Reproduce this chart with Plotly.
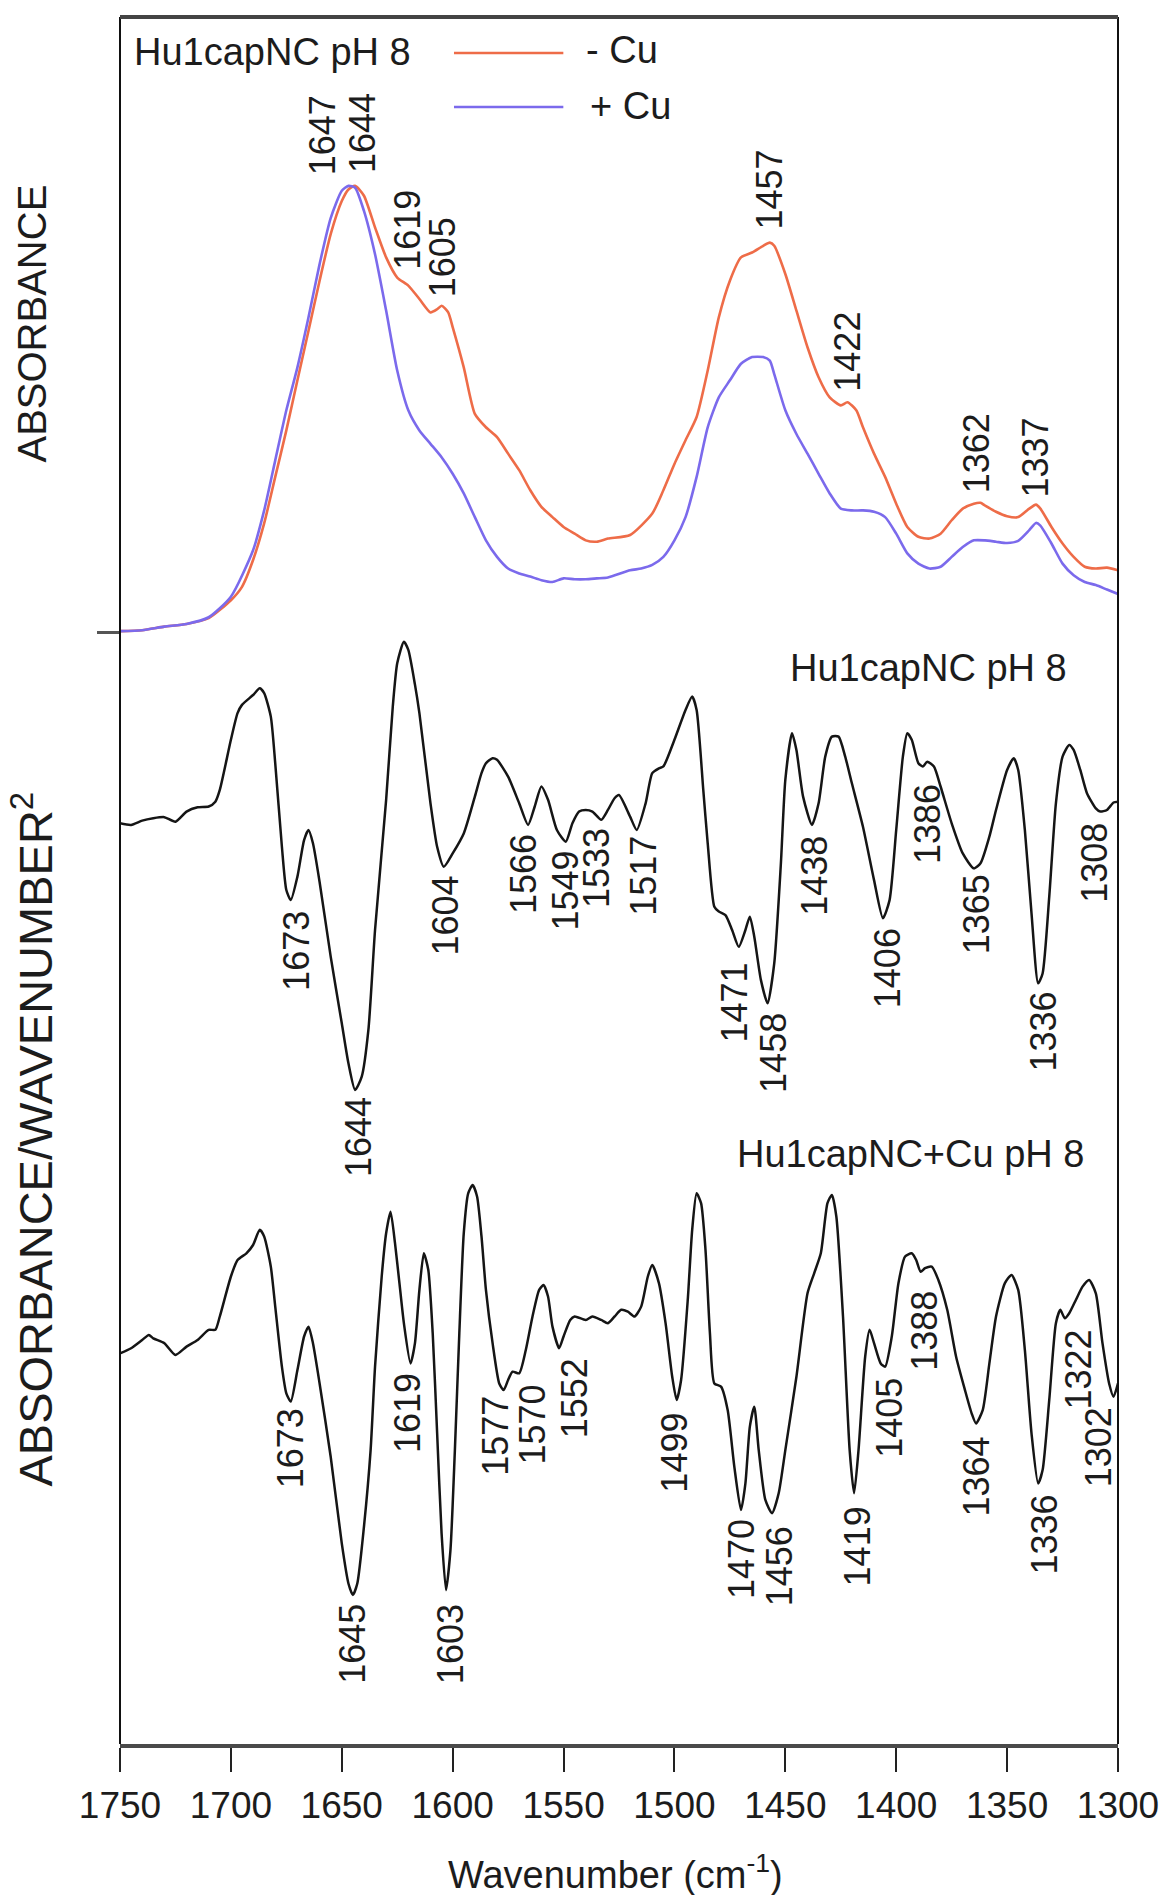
import numpy as np
import plotly.graph_objects as go

# ---------------- data ----------------
# Absorbance spectra (normalised), wavenumber in cm-1
ABS_NO_CU_WN = [1750, 1740, 1730, 1720, 1710, 1700, 1695, 1690, 1685, 1680, 1675, 1670, 1665, 1660,
                1655, 1650, 1647, 1644, 1640, 1635, 1630, 1625, 1620, 1615, 1610, 1607, 1605, 1602,
                1600, 1595, 1590, 1585, 1580, 1575, 1570, 1565, 1560, 1555, 1550, 1545, 1540, 1535,
                1530, 1520, 1510, 1505, 1500, 1495, 1490, 1485, 1480, 1475, 1470, 1465, 1460, 1457,
                1455, 1450, 1445, 1440, 1435, 1430, 1425, 1422, 1418, 1415, 1410, 1405, 1400, 1395,
                1390, 1385, 1380, 1375, 1370, 1365, 1362, 1360, 1355, 1350, 1345, 1340, 1337, 1335,
                1330, 1325, 1320, 1315, 1310, 1305, 1300]
ABS_NO_CU = [0.002, 0.004, 0.012, 0.018, 0.031, 0.071, 0.101, 0.161, 0.243, 0.347, 0.451, 0.563, 0.674, 0.786,
             0.890, 0.964, 0.990, 0.998, 0.976, 0.905, 0.838, 0.793, 0.775, 0.745, 0.715, 0.722, 0.730, 0.715,
             0.682, 0.592, 0.488, 0.458, 0.436, 0.399, 0.362, 0.317, 0.280, 0.257, 0.235, 0.220, 0.205, 0.202,
             0.209, 0.217, 0.265, 0.317, 0.376, 0.429, 0.481, 0.585, 0.704, 0.786, 0.838, 0.849, 0.864, 0.871,
             0.864, 0.801, 0.719, 0.637, 0.570, 0.525, 0.507, 0.514, 0.496, 0.458, 0.399, 0.347, 0.287, 0.235,
             0.213, 0.209, 0.220, 0.250, 0.276, 0.287, 0.289, 0.283, 0.269, 0.259, 0.257, 0.276, 0.285, 0.276,
             0.235, 0.198, 0.168, 0.146, 0.142, 0.144, 0.138]

ABS_CU_WN = [1750, 1740, 1730, 1720, 1710, 1700, 1690, 1685, 1680, 1675, 1670, 1665, 1660, 1655,
             1650, 1647, 1644, 1640, 1635, 1630, 1625, 1620, 1615, 1610, 1605, 1600, 1595, 1590,
             1585, 1580, 1575, 1570, 1565, 1560, 1555, 1550, 1545, 1540, 1535, 1530, 1520, 1515,
             1510, 1505, 1500, 1495, 1490, 1485, 1480, 1475, 1470, 1465, 1460, 1457, 1455, 1450,
             1445, 1440, 1435, 1430, 1425, 1420, 1415, 1410, 1405, 1400, 1395, 1390, 1385, 1380,
             1375, 1370, 1365, 1360, 1355, 1350, 1345, 1340, 1337, 1335, 1330, 1325, 1320, 1315,
             1310, 1305, 1300]
ABS_CU = [0.002, 0.004, 0.012, 0.018, 0.033, 0.079, 0.183, 0.272, 0.384, 0.496, 0.592, 0.704, 0.823, 0.926,
          0.987, 0.998, 0.994, 0.942, 0.845, 0.719, 0.585, 0.496, 0.451, 0.421, 0.391, 0.354, 0.310, 0.257,
          0.205, 0.168, 0.142, 0.131, 0.124, 0.116, 0.112, 0.120, 0.118, 0.118, 0.120, 0.122, 0.138, 0.142,
          0.150, 0.168, 0.205, 0.257, 0.347, 0.458, 0.525, 0.563, 0.600, 0.615, 0.615, 0.607, 0.577, 0.496,
          0.443, 0.399, 0.354, 0.310, 0.276, 0.272, 0.272, 0.269, 0.257, 0.220, 0.176, 0.153, 0.142, 0.146,
          0.168, 0.190, 0.205, 0.205, 0.202, 0.199, 0.204, 0.228, 0.244, 0.238, 0.198, 0.153, 0.127, 0.112,
          0.105, 0.095, 0.085]

# Second-derivative spectrum, no copper (arbitrary units)
D2_WN = [1750, 1745, 1740, 1735, 1730, 1725, 1720, 1715, 1710, 1707, 1705, 1700, 1697, 1695, 1690,
         1687, 1685, 1682, 1680, 1677, 1675, 1673, 1670, 1667, 1665, 1663, 1660, 1655, 1650, 1647,
         1644, 1641, 1638, 1635, 1630, 1627, 1625, 1622, 1620, 1617, 1615, 1610, 1607, 1604, 1600,
         1595, 1590, 1587, 1585, 1582, 1580, 1575, 1570, 1566, 1563, 1560, 1557, 1553, 1549, 1546,
         1543, 1540, 1537, 1533, 1530, 1527, 1525, 1520, 1517, 1513, 1510, 1507, 1505, 1500, 1495,
         1492, 1490, 1487, 1485, 1482, 1480, 1477, 1474, 1471, 1468, 1466, 1464, 1461, 1458, 1455,
         1452, 1450, 1447, 1445, 1442, 1438, 1435, 1432, 1429, 1426, 1423, 1420, 1415, 1410, 1406,
         1403, 1400, 1397, 1395, 1393, 1390, 1388, 1386, 1383, 1380, 1375, 1370, 1365, 1362, 1358,
         1355, 1350, 1347, 1345, 1342, 1339, 1336, 1334, 1331, 1328, 1325, 1322, 1320, 1317, 1314,
         1310, 1308, 1305, 1302, 1300]
D2_NO_CU = [0.0, -0.6, 1.0, 1.9, 2.3, 0.6, 4.4, 6.0, 6.3, 8.1, 12.5, 31.3, 41.3, 44.4, 48.1,
            50.6, 48.8, 40.0, 22.5, -8.8, -25.0, -28.8, -20.0, -6.3, -2.5, -7.5, -22.0, -50.0, -75.0, -90.0,
            -100.0, -95.0, -77.5, -40.0, 8.8, 43.8, 60.0, 68.1, 65.0, 52.0, 41.3, 7.5, -8.8, -16.3, -11.3,
            -3.8, 10.0, 18.8, 22.5, 24.4, 23.8, 17.5, 7.5, -0.6, 6.3, 13.8, 8.8, -2.5, -6.9, 0.0,
            4.4, 5.0, 4.4, 1.3, 5.0, 9.4, 10.6, 2.5, -2.5, 7.5, 18.8, 20.6, 21.3, 31.3, 42.5,
            47.5, 42.5, 12.5, -7.5, -31.3, -33.1, -34.4, -40.0, -46.3, -40.0, -35.0, -42.5, -58.8, -67.5, -52.5,
            -15.0, 16.3, 33.8, 27.5, 10.0, -0.6, 7.5, 25.0, 32.5, 32.5, 25.0, 15.0, -1.3, -21.3, -35.6,
            -28.8, -2.5, 25.0, 33.8, 31.3, 22.5, 21.3, 23.1, 21.3, 13.8, 0.0, -11.3, -16.9, -15.0, -5.0,
            5.0, 20.0, 24.4, 20.0, -2.5, -33.8, -60.0, -56.3, -27.5, 7.5, 25.0, 29.4, 27.5, 20.0, 11.3,
            5.6, 4.4, 5.0, 7.8, 8.1]

# Second-derivative spectrum, with copper (arbitrary units)
D2_CU_WN = [1750, 1745, 1740, 1737, 1735, 1730, 1725, 1720, 1715, 1710, 1707, 1705, 1700, 1697, 1693,
            1690, 1687, 1685, 1682, 1680, 1677, 1675, 1673, 1670, 1667, 1665, 1663, 1660, 1655, 1650,
            1647, 1645, 1643, 1640, 1637, 1635, 1632, 1630, 1628, 1626, 1624, 1622, 1619, 1617, 1615,
            1613, 1611, 1609, 1607, 1605, 1603, 1601, 1599, 1597, 1595, 1593, 1591, 1589, 1587, 1585,
            1582, 1579, 1577, 1575, 1573, 1570, 1567, 1564, 1561, 1559, 1557, 1555, 1552, 1550, 1547,
            1545, 1540, 1537, 1533, 1530, 1527, 1524, 1521, 1518, 1515, 1512, 1510, 1507, 1504, 1501,
            1499, 1497, 1494, 1492, 1490, 1488, 1486, 1484, 1482, 1479, 1476, 1473, 1470, 1468, 1466,
            1464, 1462, 1459, 1456, 1453, 1450, 1445, 1440, 1437, 1434, 1431, 1429, 1427, 1424, 1421,
            1419, 1417, 1414, 1412, 1410, 1407, 1405, 1402, 1399, 1396, 1393, 1391, 1389, 1387, 1384,
            1381, 1377, 1373, 1369, 1366, 1364, 1361, 1358, 1355, 1351, 1348, 1345, 1342, 1339, 1336,
            1334, 1331, 1328, 1326, 1324, 1322, 1319, 1316, 1313, 1310, 1307, 1304, 1302, 1300]
D2_CU = [0.0, 1.9, 5.0, 6.9, 5.6, 3.8, -0.6, 2.5, 5.0, 8.8, 8.8, 13.8, 28.8, 35.0, 37.5,
         40.6, 46.3, 43.8, 32.5, 17.5, -5.0, -15.0, -18.1, -6.3, 6.3, 10.0, 3.8, -11.3, -38.8, -71.3,
         -86.3, -90.6, -86.3, -65.0, -36.3, -5.0, 28.8, 45.0, 53.1, 41.3, 26.3, 11.3, -3.8, 3.8, 23.8,
         37.5, 31.3, 7.5, -30.0, -67.5, -88.8, -73.8, -36.3, 7.5, 45.0, 60.0, 63.1, 58.8, 43.8, 23.8,
         3.8, -11.3, -13.8, -10.0, -6.9, -7.5, 1.3, 13.8, 23.8, 25.6, 21.3, 10.0, 1.9, 6.3, 12.5,
         13.8, 12.5, 13.8, 12.5, 11.3, 13.8, 16.3, 15.6, 13.8, 17.5, 28.8, 33.1, 26.3, 11.3, -8.8,
         -17.5, -10.0, 20.0, 46.3, 60.0, 56.3, 38.8, 7.5, -11.3, -12.5, -21.3, -42.5, -58.8, -48.8, -27.5,
         -20.0, -36.3, -55.0, -60.0, -52.5, -36.3, -8.8, 22.5, 30.0, 37.5, 56.3, 59.4, 51.3, 13.8, -36.3,
         -52.5, -36.3, -1.3, 8.8, 3.8, -3.8, -5.0, 6.3, 26.3, 36.3, 37.5, 35.0, 30.6, 31.9, 32.5,
         27.5, 16.3, -1.3, -13.8, -22.5, -26.3, -21.3, -3.8, 13.8, 26.3, 29.4, 23.8, 1.3, -30.0, -48.8,
         -43.8, -17.5, 11.3, 16.3, 13.1, 15.0, 20.0, 25.0, 27.5, 22.5, 3.8, -11.3, -16.3, -11.3]

# Band positions marked on each spectrum (cm-1)
ABS_BANDS = [1647, 1644, 1619, 1605, 1457, 1422, 1362, 1337]
D2_BANDS = [1673, 1644, 1604, 1566, 1549, 1533, 1517, 1471, 1458, 1438, 1406, 1386, 1365, 1336, 1308]
D2_CU_BANDS = [1673, 1645, 1619, 1603, 1577, 1570, 1552, 1499, 1470, 1456, 1419, 1405, 1388, 1364,
               1336, 1322, 1302]

X_TICKS = [1750, 1700, 1650, 1600, 1550, 1500, 1450, 1400, 1350, 1300]

# ---------------- layout geometry / styling ----------------
W, H = 1171, 1895
LEFT, RIGHT, TOP, BOTTOM = 120, 1124, 17, 1744
PLOT_H = BOTTOM - TOP
FONT = "Liberation Sans, Arial, sans-serif"
TXT = "#1c1c1c"
ORANGE = "#EE6C48"
BLUE = "#7B6AEC"
INK = "#151515"
LABEL_SIZE = 36


def axis_range(zero_px, px_per_unit):
    lo = -(BOTTOM - zero_px) / px_per_unit
    return [lo, lo + PLOT_H / px_per_unit]


def py_to_paper(py):
    return (BOTTOM - py) / PLOT_H


def interp(wn, xs, ys):
    return float(np.interp(wn, xs[::-1], ys[::-1]))


fig = go.Figure()

fig.add_trace(go.Scatter(x=ABS_NO_CU_WN, y=ABS_NO_CU, mode="lines", yaxis="y",
                         line=dict(color=ORANGE, width=2.6, shape="spline", smoothing=0.6)))
fig.add_trace(go.Scatter(x=ABS_CU_WN, y=ABS_CU, mode="lines", yaxis="y",
                         line=dict(color=BLUE, width=2.6, shape="spline", smoothing=0.6)))
fig.add_trace(go.Scatter(x=D2_WN, y=D2_NO_CU, mode="lines", yaxis="y2",
                         line=dict(color=INK, width=2.5, shape="spline", smoothing=0.6)))
fig.add_trace(go.Scatter(x=D2_CU_WN, y=D2_CU, mode="lines", yaxis="y3",
                         line=dict(color=INK, width=2.5, shape="spline", smoothing=0.6)))

annotations = []

# band labels above the absorbance maxima
abs_nudge = {1647: -26, 1644: 8, 1619: -3, 1605: 1, 1362: -4}
abs_gap = {1647: 10, 1644: 12, 1619: 17, 1605: 7, 1457: 12, 1422: 10, 1362: 8, 1337: 6}
for wn in ABS_BANDS:
    yv = max(interp(wn, ABS_NO_CU_WN, ABS_NO_CU), interp(wn, ABS_CU_WN, ABS_CU))
    annotations.append(dict(x=wn, y=yv, xref="x", yref="y", text=str(wn), showarrow=False,
                            textangle=-90, xanchor="center", yanchor="bottom", borderpad=0,
                            xshift=abs_nudge.get(wn, 0), yshift=abs_gap.get(wn, 8),
                            font=dict(family=FONT, size=LABEL_SIZE, color=TXT)))

# band labels below the second-derivative minima
d2_nudge = {1673: 5, 1644: 3, 1604: 2, 1566: -4, 1533: -4, 1517: 7, 1471: -4, 1458: 6,
            1438: 3, 1406: 4, 1365: 3, 1336: 5, 1308: -6}
d2_gap = {1673: 10, 1644: 6, 1604: 8, 1566: 8, 1549: 8, 1533: 7, 1517: 5, 1471: 15, 1458: 9,
          1438: 10, 1406: 9, 1386: 21, 1365: 5, 1336: 7, 1308: 10}
for wn in D2_BANDS:
    yv = interp(wn, D2_WN, D2_NO_CU)
    annotations.append(dict(x=wn, y=yv, xref="x", yref="y2", text=str(wn), showarrow=False,
                            textangle=-90, xanchor="center", yanchor="top", borderpad=0,
                            xshift=d2_nudge.get(wn, 0), yshift=-d2_gap.get(wn, 8),
                            font=dict(family=FONT, size=LABEL_SIZE, color=TXT)))

d2cu_nudge = {1619: -3, 1603: 4, 1577: -9, 1570: 13, 1552: 15, 1499: -2, 1456: 7, 1419: 3,
              1405: 5, 1388: 2, 1336: 6, 1322: 9, 1302: -15}
d2cu_gap = {1673: 6, 1645: 8, 1619: 9, 1603: 13, 1577: 5, 1570: 10, 1552: 9, 1499: 12, 1470: 8,
            1456: 12, 1419: 12, 1405: 10, 1388: 20, 1364: 12, 1336: 10, 1322: 15, 1302: 10}
for wn in D2_CU_BANDS:
    yv = interp(wn, D2_CU_WN, D2_CU)
    annotations.append(dict(x=wn, y=yv, xref="x", yref="y3", text=str(wn), showarrow=False,
                            textangle=-90, xanchor="center", yanchor="top", borderpad=0,
                            xshift=d2cu_nudge.get(wn, 0), yshift=-d2cu_gap.get(wn, 8),
                            font=dict(family=FONT, size=LABEL_SIZE, color=TXT)))


def paper_text(text, px, py, size=37, angle=0, xanchor="left"):
    return dict(x=(px - LEFT) / (RIGHT - LEFT), y=py_to_paper(py), xref="paper", yref="paper",
                text=text, showarrow=False, textangle=angle, xanchor=xanchor, yanchor="middle",
                borderpad=0, font=dict(family=FONT, size=size, color=TXT))


# legend block and panel captions
annotations += [
    paper_text("Hu1capNC pH 8", 133, 52, size=38),
    paper_text("- Cu", 588, 50, size=38),
    paper_text("+ Cu", 592, 106, size=38),
    paper_text("Hu1capNC pH 8", 1074, 668, size=38, xanchor="right"),
    paper_text("Hu1capNC+Cu pH 8", 1091, 1154, size=38, xanchor="right"),
    paper_text("ABSORBANCE", 31, 324, size=40, angle=-90, xanchor="center"),
    paper_text("ABSORBANCE/WAVENUMBER<sup>2</sup>", 32, 1139, size=47, angle=-90, xanchor="center"),
    paper_text("Wavenumber (cm<sup>-1</sup>)", 618, 1872, size=38, xanchor="center"),
]

shapes = [
    # frame
    dict(type="line", xref="paper", yref="paper", x0=0, x1=0, y0=0, y1=1,
         line=dict(color="#111", width=2)),
    dict(type="line", xref="paper", yref="paper", x0=1, x1=1, y0=0, y1=1,
         line=dict(color="#111", width=2)),
    dict(type="line", xref="paper", yref="paper", x0=0, x1=1, y0=1, y1=1,
         line=dict(color="#444", width=4)),
    # legend samples
    dict(type="line", xref="paper", yref="paper",
         x0=(456 - LEFT) / (RIGHT - LEFT), x1=(566 - LEFT) / (RIGHT - LEFT),
         y0=py_to_paper(53), y1=py_to_paper(53), line=dict(color=ORANGE, width=2.6)),
    dict(type="line", xref="paper", yref="paper",
         x0=(456 - LEFT) / (RIGHT - LEFT), x1=(566 - LEFT) / (RIGHT - LEFT),
         y0=py_to_paper(107), y1=py_to_paper(107), line=dict(color=BLUE, width=2.6)),
]

hidden = dict(showgrid=False, zeroline=False, showline=False, showticklabels=False,
              ticks="", fixedrange=True)

fig.update_layout(
    width=W, height=H,
    margin=dict(l=LEFT, r=W - RIGHT, t=TOP, b=H - BOTTOM, pad=0),
    paper_bgcolor="white", plot_bgcolor="white",
    showlegend=False,
    font=dict(family=FONT, color=TXT),
    xaxis=dict(range=[1750, 1300], tickvals=X_TICKS, ticktext=[str(v) for v in X_TICKS],
               ticks="outside", ticklen=24, tickwidth=2, tickcolor="#222",
               showline=True, linewidth=4, linecolor="#4a4a4a", mirror=False,
               showgrid=False, zeroline=False, ticklabelstandoff=2,
               tickfont=dict(family=FONT, size=37, color=TXT)),
    yaxis=dict(range=axis_range(632, 447), tickvals=[0], ticks="outside", ticklen=22,
               tickwidth=3, tickcolor="#555", showticklabels=False, showgrid=False,
               zeroline=False, showline=False),
    yaxis2=dict(range=axis_range(823.3, 2.667), overlaying="y", **hidden),
    yaxis3=dict(range=axis_range(1353.3, 2.667), overlaying="y", **hidden),
    annotations=annotations,
    shapes=shapes,
)

fig.write_html("out.html")
